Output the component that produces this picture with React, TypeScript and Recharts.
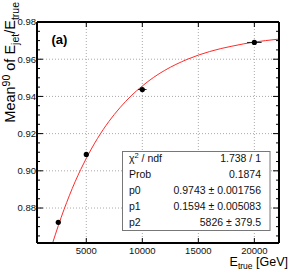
import React from 'react';
import { ComposedChart, XAxis, YAxis, Line, Scatter, ErrorBar, ReferenceLine } from 'recharts';

// measured points
const energies = [2500, 5000, 10000, 20000];
const meanValues = [0.8723, 0.9088, 0.9437, 0.969];
const energyErrors = [120, 200, 380, 650];
const meanErrors = [0.0006, 0.0006, 0.0009, 0.0006];

// fitted curve
const fitEnergies = [2000, 2500, 3000, 4000, 5000, 6000, 7000, 8000, 9000, 10000, 11000, 12000, 13000, 14000, 15000, 16000, 17000, 18000, 19000, 20000, 21000, 22200];
const fitValues = [0.8613, 0.8705, 0.879, 0.8941, 0.9067, 0.9174, 0.9264, 0.9339, 0.9403, 0.9456, 0.9502, 0.954, 0.9572, 0.9599, 0.9622, 0.9641, 0.9657, 0.967, 0.9682, 0.9692, 0.97, 0.9708];

const xTicks = [5000, 10000, 15000, 20000];
const yMajorTicks = [0.88, 0.9, 0.92, 0.94, 0.96, 0.98];
const yMinorTicks = [0.865, 0.87, 0.875, 0.885, 0.89, 0.895, 0.905, 0.91, 0.915, 0.925, 0.93, 0.935, 0.945, 0.95, 0.955, 0.965, 0.97, 0.975];

const statLabels = ['χ2 / ndf', 'Prob', 'p0', 'p1', 'p2'];
const statValues = ['1.738 / 1', '0.1874', '0.9743 ± 0.001756', '0.1594 ± 0.005083', '5826 ± 379.5'];

const xDomain = [600, 22200];
const yDomain = [0.8612, 0.98];

const FONT = '"Liberation Sans", Arial, Helvetica, sans-serif';

const points = energies.map((x, i) => ({ x, y: meanValues[i], xErr: energyErrors[i], yErr: meanErrors[i] }));
const curve = fitEnergies.map((x, i) => ({ x, y: fitValues[i] }));
const yAllTicks = [...yMajorTicks, ...yMinorTicks].sort((a, b) => a - b);
const isMajor = (v: number) => yMajorTicks.some((m) => Math.abs(m - v) < 1e-6);

const BottomTick = (props: any) => {
  const { x, y, payload } = props;
  return (
    <g>
      <line x1={x} x2={x} y1={y} y2={y - 5} stroke="#000" strokeWidth={1} />
      <text x={x} y={y + 10.5} textAnchor="middle" fontSize={9.5} fontFamily={FONT} fill="#111">
        {payload.value}
      </text>
    </g>
  );
};

const TopTick = (props: any) => {
  const { x, y } = props;
  return <line x1={x} x2={x} y1={y} y2={y + 5} stroke="#000" strokeWidth={1} />;
};

const LeftTick = (props: any) => {
  const { x, y, payload } = props;
  const major = isMajor(payload.value);
  return (
    <g>
      <line x1={x} x2={x + (major ? 6 : 3)} y1={y} y2={y} stroke="#000" strokeWidth={1} />
      {major && (
        <text x={x - 1} y={y + 3.4} textAnchor="end" fontSize={9.5} fontFamily={FONT} fill="#111">
          {Number(payload.value).toFixed(2)}
        </text>
      )}
    </g>
  );
};

const RightTick = (props: any) => {
  const { x, y, payload } = props;
  const major = isMajor(payload.value);
  return <line x1={x} x2={x - (major ? 6 : 3)} y1={y} y2={y} stroke="#000" strokeWidth={1} />;
};

const Dot = (props: any) => {
  const { cx, cy } = props;
  return <circle cx={cx} cy={cy} r={2.6} fill="#000" />;
};

export default function App() {
  return (
    <div style={{ position: 'absolute', left: 0, top: 0, width: 291, height: 280, background: '#fff' }}>
      <ComposedChart width={291} height={280} margin={{ top: 21, right: 11, bottom: 36, left: 36 }}>
        <XAxis xAxisId="b" orientation="bottom" type="number" dataKey="x" domain={xDomain} allowDataOverflow
          ticks={xTicks} interval={0} height={1} tickSize={0} tickMargin={0} tickLine={false}
          axisLine={{ stroke: '#000', strokeWidth: 2 }} tick={<BottomTick />} />
        <XAxis xAxisId="t" orientation="top" type="number" dataKey="x" domain={xDomain} allowDataOverflow
          ticks={xTicks} interval={0} height={1} tickSize={0} tickMargin={0} tickLine={false}
          axisLine={{ stroke: '#000', strokeWidth: 2 }} tick={<TopTick />} />
        <YAxis yAxisId="l" orientation="left" type="number" domain={yDomain} allowDataOverflow
          ticks={yAllTicks} interval={0} width={1} tickSize={0} tickMargin={0} tickLine={false}
          axisLine={{ stroke: '#000', strokeWidth: 2 }} tick={<LeftTick />} />
        <YAxis yAxisId="r" orientation="right" type="number" domain={yDomain} allowDataOverflow
          ticks={yAllTicks} interval={0} width={1} tickSize={0} tickMargin={0} tickLine={false}
          axisLine={{ stroke: '#000', strokeWidth: 2 }} tick={<RightTick />} />
        {xTicks.map((v) => (
          <ReferenceLine key={'gx' + v} x={v} xAxisId="b" yAxisId="l" stroke="#aaa" strokeWidth={1} strokeDasharray="1 2" />
        ))}
        {yMajorTicks.slice(0, -1).map((v) => (
          <ReferenceLine key={'gy' + v} y={v} xAxisId="b" yAxisId="l" stroke="#aaa" strokeWidth={1} strokeDasharray="1 2" />
        ))}
        <Line xAxisId="b" yAxisId="l" data={curve} dataKey="y" type="monotone" stroke="#ff2a2a" strokeWidth={1}
          dot={false} activeDot={false} isAnimationActive={false} />
        <Scatter xAxisId="b" yAxisId="l" data={points} dataKey="y" shape={<Dot />} isAnimationActive={false}>
          <ErrorBar dataKey="xErr" direction="x" width={0} stroke="#222" strokeWidth={1} />
          <ErrorBar dataKey="yErr" direction="y" width={0} stroke="#222" strokeWidth={1} />
        </Scatter>
      </ComposedChart>
      <svg width={291} height={280} style={{ position: 'absolute', left: 0, top: 0, pointerEvents: 'none' }}>
        <text x={51.5} y={44} fontSize={13} fontWeight="bold" fontFamily={FONT} fill="#000">(a)</text>
        <text transform="rotate(-90 15 2)" x={15} y={2} textAnchor="end" fontSize={14.5} fontFamily={FONT} fill="#000">
          Mean<tspan dy={-5.5} fontSize={10.5}>90</tspan>
          <tspan dy={5.5} fontSize={14.5}> of E</tspan>
          <tspan dy={3.5} fontSize={10.5}>jet</tspan>
          <tspan dy={-3.5} fontSize={14.5}>/E</tspan>
          <tspan dy={3.5} fontSize={10.5}>true</tspan>
        </text>
        <text x={288} y={266} textAnchor="end" fontSize={12.5} fontFamily={FONT} fill="#000">
          E<tspan dy={3} fontSize={8.5}>true</tspan>
          <tspan dy={-3} fontSize={12.5}> [GeV]</tspan>
        </text>
        <rect x={122.5} y={151.5} width={147.5} height={79} fill="#fff" stroke="#777" strokeWidth={1} />
        {statLabels.map((lab, i) => (
          <text key={'sl' + i} x={129} y={162 + i * 16.1} fontSize={10.5} fontFamily={FONT} fill="#111">
            {i === 0 ? (
              <>
                χ<tspan dy={-4} fontSize={7.5}>2</tspan>
                <tspan dy={4}> / ndf</tspan>
              </>
            ) : (
              lab
            )}
          </text>
        ))}
        {statValues.map((val, i) => (
          <text key={'sv' + i} x={261} y={162 + i * 16.1} textAnchor="end" fontSize={10.5} fontFamily={FONT} fill="#111">
            {val}
          </text>
        ))}
      </svg>
    </div>
  );
}
